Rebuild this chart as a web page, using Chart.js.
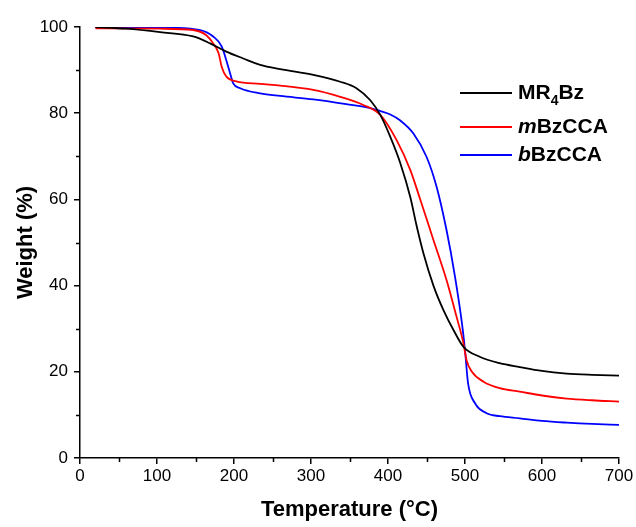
<!DOCTYPE html>
<html>
<head>
<meta charset="utf-8">
<script src="https://cdn.jsdelivr.net/npm/chart.js@4.4.1/dist/chart.umd.min.js"></script>
<style>
  html, body { margin: 0; padding: 0; background: #fff; }
  #wrap { width: 636px; height: 527px; }
</style>
</head>
<body>
<div id="wrap"><canvas id="tga"></canvas></div>
<script>
// TGA curves (temperature in °C, weight in %)
const tempMR = [20, 60, 104, 147, 169, 190, 212, 234, 260, 303, 338, 359, 377, 390, 403, 416, 429, 437, 446, 459, 472, 485, 498, 519, 545, 571, 600, 632, 665, 700];
const weightMR = [100, 99.6, 98.8, 97.8, 96.2, 94.3, 92.7, 91.2, 90.2, 88.9, 87.3, 85.8, 83, 79.6, 74.5, 68.4, 60.5, 54, 47.5, 40, 34.3, 29.7, 25.8, 23.5, 22, 21.1, 20.2, 19.6, 19.3, 19.1];

const tempM = [20, 104, 147, 164, 173, 180, 184, 190, 203, 234, 260, 303, 338, 368, 390, 411, 429, 442, 459, 476, 489, 498, 502, 509, 524, 545, 571, 600, 632, 665, 700];
const weightM = [99.7, 99.6, 99.3, 98.1, 96.2, 93.9, 90.8, 88.5, 87.4, 86.8, 86.4, 85.4, 83.8, 81.9, 79.6, 73.8, 66.8, 59.9, 50.6, 41.3, 32.8, 26.6, 22.7, 20, 17.7, 16.2, 15.4, 14.5, 13.8, 13.4, 13.1];

const tempB = [20, 100, 156, 173, 184, 190, 195, 199, 208, 234, 260, 303, 346, 377, 390, 403, 416, 433, 450, 463, 476, 487, 496, 500, 504, 513, 528, 545, 571, 600, 632, 665, 700];
const weightB = [100, 99.9, 99.3, 97.8, 95.5, 92.3, 89.2, 86.9, 85.8, 84.6, 84, 83.2, 82.1, 81.2, 80.5, 79.7, 78.3, 75.3, 69.9, 63, 52.9, 42.1, 31.3, 25, 17.3, 12.7, 10.4, 9.7, 9.2, 8.6, 8.2, 7.9, 7.7];

const seriesNames = ['MR4Bz', 'mBzCCA', 'bBzCCA'];
const seriesColors = ['#000000', '#ff0000', '#0000ff'];
const xMinorTicks = [50, 150, 250, 350, 450, 550, 650];
const yMinorTicks = [10, 30, 50, 70, 90];

const FONT = "'Liberation Sans', Arial, sans-serif";

function pts(xs, ys) {
  return xs.map((t, i) => ({ x: t, y: ys[i] }));
}

// minor tick marks (Chart.js has no minor ticks of its own)
const minorTicks = {
  id: 'minorTicks',
  afterDraw(chart) {
    const { ctx, chartArea, scales } = chart;
    ctx.save();
    ctx.strokeStyle = '#000';
    ctx.lineWidth = 1.5;
    ctx.beginPath();
    xMinorTicks.forEach(v => {
      const px = Math.round(scales.x.getPixelForValue(v)) + 0.5;
      ctx.moveTo(px, chartArea.bottom);
      ctx.lineTo(px, chartArea.bottom + 4);
    });
    yMinorTicks.forEach(v => {
      const py = Math.round(scales.y.getPixelForValue(v)) + 0.5;
      ctx.moveTo(chartArea.left, py);
      ctx.lineTo(chartArea.left - 4, py);
    });
    ctx.stroke();
    ctx.restore();
  }
};

// legend with italic prefixes and the subscript 4
const legendParts = [
  [{ t: 'MR' }, { t: '4', sub: true }, { t: 'Bz' }],
  [{ t: 'm', it: true }, { t: 'BzCCA' }],
  [{ t: 'b', it: true }, { t: 'BzCCA' }]
];
const sketchLegend = {
  id: 'sketchLegend',
  afterDatasetsDraw(chart) {
    const { ctx, chartArea } = chart;
    const rows = [66, 100, 128];
    const x0 = chartArea.right - 159;
    ctx.save();
    ctx.textBaseline = 'middle';
    rows.forEach((dy, i) => {
      const y = chartArea.top + dy;
      ctx.strokeStyle = seriesColors[i];
      ctx.lineWidth = 1.8;
      ctx.beginPath();
      ctx.moveTo(x0, y);
      ctx.lineTo(x0 + 52, y);
      ctx.stroke();
      let x = x0 + 58;
      ctx.fillStyle = '#000';
      legendParts[i].forEach(p => {
        ctx.font = (p.it ? 'italic ' : '') + 'bold ' + (p.sub ? 14 : 21) + 'px ' + FONT;
        ctx.fillText(p.t, x, p.sub ? y + 8 : y);
        x += ctx.measureText(p.t).width;
      });
    });
    ctx.restore();
  }
};

new Chart(document.getElementById('tga'), {
  type: 'line',
  data: {
    datasets: [
      { label: seriesNames[0], data: pts(tempMR, weightMR), borderColor: seriesColors[0] },
      { label: seriesNames[1], data: pts(tempM, weightM), borderColor: seriesColors[1] },
      { label: seriesNames[2], data: pts(tempB, weightB), borderColor: seriesColors[2] }
    ]
  },
  options: {
    responsive: true,
    maintainAspectRatio: false,
    animation: false,
    layout: { padding: { top: 27, right: 17, left: 0, bottom: 0 } },
    elements: {
      point: { radius: 0 },
      line: { borderWidth: 1.8, cubicInterpolationMode: 'monotone' }
    },
    plugins: {
      legend: { display: false },
      tooltip: { enabled: false }
    },
    scales: {
      x: {
        type: 'linear',
        min: 0,
        max: 700,
        ticks: { stepSize: 100, color: '#000', font: { family: FONT, size: 17 }, padding: 2, maxRotation: 0 },
        grid: { drawOnChartArea: false, color: '#000', lineWidth: 1.5, tickLength: 6 },
        border: { color: '#000', width: 1.5 },
        title: { display: true, text: 'Temperature (°C)', color: '#000', font: { family: FONT, size: 22, weight: 'bold' }, padding: { top: 8 } },
        afterFit(s) { s.height = 69; }
      },
      y: {
        min: 0,
        max: 100,
        ticks: { stepSize: 20, color: '#000', font: { family: FONT, size: 17 }, padding: 6 },
        grid: { drawOnChartArea: false, color: '#000', lineWidth: 1.5, tickLength: 6 },
        border: { color: '#000', width: 1.5 },
        title: { display: true, text: 'Weight (%)', color: '#000', font: { family: FONT, size: 22, weight: 'bold' }, padding: { top: 13, bottom: 0 } },
        afterFit(s) { s.width = 80; }
      }
    }
  },
  plugins: [minorTicks, sketchLegend]
});
</script>
</body>
</html>
